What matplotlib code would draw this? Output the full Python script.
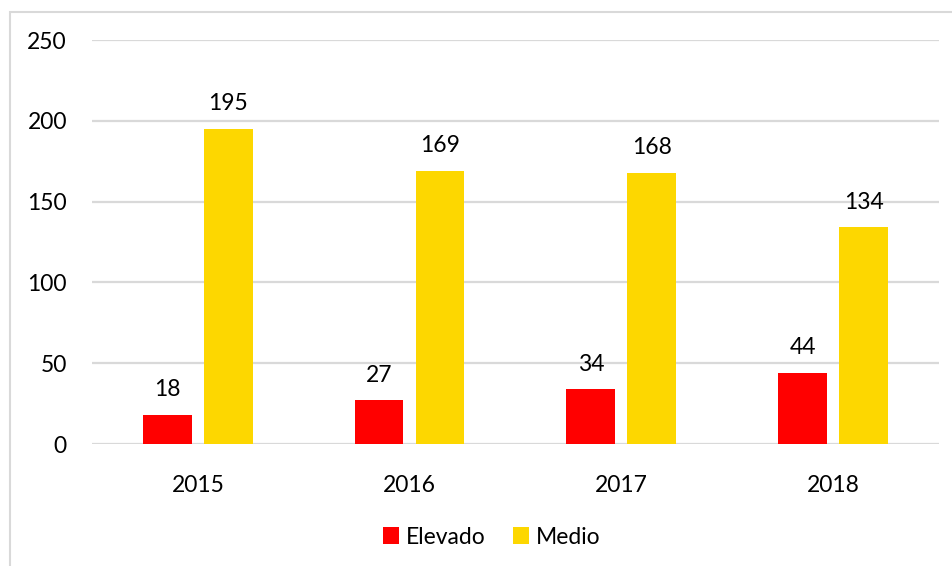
import matplotlib
matplotlib.use("Agg")
import matplotlib.pyplot as plt
from matplotlib.patches import Rectangle
import numpy as np

years = ["2015", "2016", "2017", "2018"]
elevado = [18, 27, 34, 44]
medio = [195, 169, 168, 134]

plt.rcParams["font.family"] = ["Lato", "DejaVu Sans"]

fig = plt.figure(figsize=(9.52, 5.66), dpi=100)
ax = fig.add_axes([0.0966, 0.2155, 0.8897, 0.7138])

# outer chart border (only top and left visible in the crop)
fig.patches.append(Rectangle((10 / 952, -0.1), 1.2, 1 - 12 / 566 + 0.1,
                             transform=fig.transFigure, fill=False,
                             edgecolor="#d9d9d9", linewidth=1.5))

x = np.arange(len(years))
w = 0.23
off = 0.144
b1 = ax.bar(x - off, elevado, w, color="#ff0000", label="Elevado", zorder=3)
b2 = ax.bar(x + off, medio, w, color="#fdd700", label="Medio", zorder=3)

for bars in (b1, b2):
    for r in bars:
        ax.text(r.get_x() + r.get_width() / 2, r.get_height() + 9,
                str(int(r.get_height())), ha="center", va="bottom", fontsize=16.5)

ax.set_xlim(-0.5, 3.5)
ax.set_ylim(0, 250)
ax.set_yticks(range(0, 251, 50))
ax.set_xticks(x)
ax.set_xticklabels(years)
ax.tick_params(axis="both", length=0, labelsize=16.5)
ax.tick_params(axis="y", pad=18)
ax.tick_params(axis="x", pad=22)
ax.grid(axis="y", color="#d9d9d9", linewidth=1.6, zorder=0)
for s in ax.spines.values():
    s.set_visible(False)

fig.legend(loc="center", bbox_to_anchor=(492 / 952, 1 - 537 / 566), ncol=2,
           frameon=False, fontsize=16.5, handlelength=0.7, handleheight=0.7,
           handletextpad=0.3, columnspacing=1.2)

fig.savefig("out.png", dpi=100)
